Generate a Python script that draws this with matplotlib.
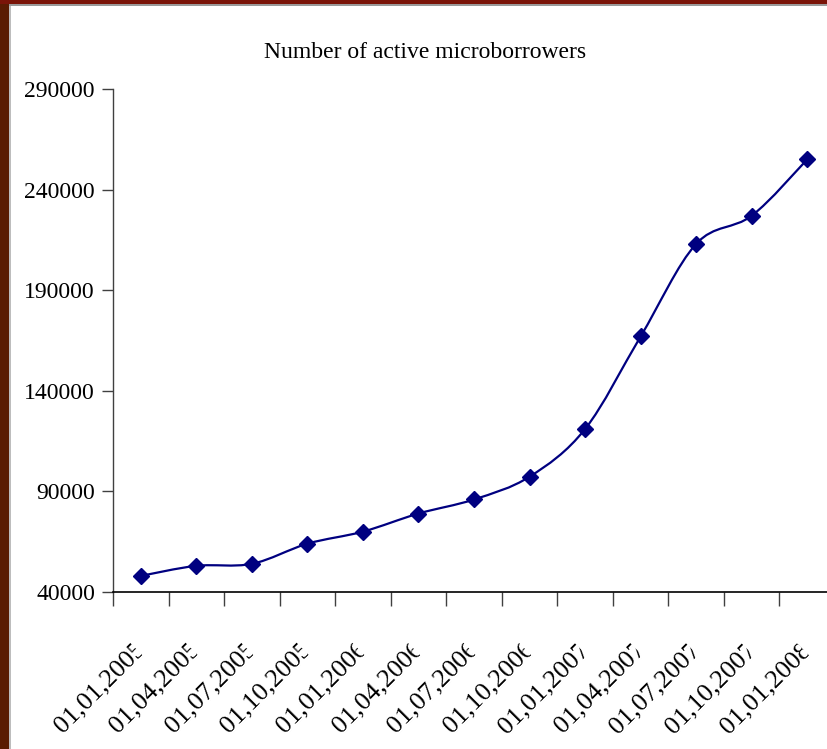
import numpy as np
import matplotlib
matplotlib.use("Agg")
import matplotlib.pyplot as plt
from matplotlib.path import Path
from matplotlib.patches import PathPatch, Rectangle, Polygon
from matplotlib.transforms import IdentityTransform

dates = ["01,01,2005", "01,04,2005", "01,07,2005", "01,10,2005",
         "01,01,2006", "01,04,2006", "01,07,2006", "01,10,2006",
         "01,01,2007", "01,04,2007", "01,07,2007", "01,10,2007",
         "01,01,2008"]
borrowers = [48000, 53000, 54000, 64000, 70000, 79000, 86000, 97300,
             121000, 167000, 213000, 227000, 255000]
y_ticks = [40000, 90000, 140000, 190000, 240000, 290000]
title = "Number of active microborrowers"

W, H, DPI = 827, 749, 100
fig = plt.figure(figsize=(W / DPI, H / DPI), dpi=DPI, facecolor="white")

serif = "Liberation Serif"
navy = "#000080"

# slide frame: dark band on the left and top edges
fig.patches.append(Rectangle((0, 0), 9 / W, 1, transform=fig.transFigure,
                             facecolor="#5a1c02", edgecolor="none", zorder=0))
fig.patches.append(Rectangle((0, 1 - 4 / H), 1, 4 / H, transform=fig.transFigure,
                             facecolor="#7a1408", edgecolor="none", zorder=0))
fig.patches.append(Rectangle((9 / W, 0), 2 / W, 1 - 4 / H, transform=fig.transFigure,
                             facecolor="#bdbdbd", edgecolor="none", zorder=0))
fig.patches.append(Rectangle((9 / W, 1 - 6 / H), 1 - 9 / W, 2 / H, transform=fig.transFigure,
                             facecolor="#9a9a9a", edgecolor="none", zorder=0))

# plot area in pixels: x 113..835, y 89..592 (top-down); the right part runs off the figure
left, right, top, bottom = 113, 835, 89, 592
ax = fig.add_axes([left / W, 1 - bottom / H, (right - left) / W, (bottom - top) / H])
ax.set_facecolor("none")

n = len(dates)
x = np.arange(n, dtype=float)
y = np.asarray(borrowers, dtype=float)

# smoothed line: cubic Bezier segments through every point
verts = [(x[0], y[0])]
codes = [Path.MOVETO]
for i in range(n - 1):
    p0 = np.array([x[max(i - 1, 0)], y[max(i - 1, 0)]])
    p1 = np.array([x[i], y[i]])
    p2 = np.array([x[i + 1], y[i + 1]])
    p3 = np.array([x[min(i + 2, n - 1)], y[min(i + 2, n - 1)]])
    c1 = p1 + (p2 - p0) / 6.0
    c2 = p2 - (p3 - p1) / 6.0
    verts += [tuple(c1), tuple(c2), tuple(p2)]
    codes += [Path.CURVE4, Path.CURVE4, Path.CURVE4]
ax.add_patch(PathPatch(Path(verts, codes), facecolor="none", edgecolor=navy,
                       lw=1.6, transform=ax.transData, zorder=3))
ax.plot(x, y, linestyle="none", marker="D", markersize=8.5, color=navy,
        markeredgecolor=navy, zorder=4, clip_on=False)

ax.set_xlim(-0.5, n - 0.5)
ax.set_ylim(40000, 290000)

for s in ("top", "right"):
    ax.spines[s].set_visible(False)
ax.spines["left"].set_color("#404040")
ax.spines["left"].set_linewidth(1.0)
ax.spines["bottom"].set_color("black")
ax.spines["bottom"].set_linewidth(1.2)

ax.set_yticks(y_ticks)
ax.set_yticklabels([str(v) for v in y_ticks], fontfamily=serif, fontsize=17)
ax.tick_params(axis="y", direction="out", length=8, width=1, color="#404040", pad=5)

ax.set_xticks(np.arange(-0.5, n, 1.0))
ax.set_xticklabels([])
ax.tick_params(axis="x", direction="out", length=10, width=1, color="#404040")

# category labels, rotated 45 degrees; the end of each one is cut short
u = np.array([1.0, 1.0]) / np.sqrt(2)
v = np.array([-1.0, 1.0]) / np.sqrt(2)
cut, reach, half = 6.0, 14.0, 17.0
for i, lab in enumerate(dates):
    px, py = ax.transData.transform((x[i], 40000))
    end = np.array([px + 1, py - 54])
    fig.text(end[0] / W, end[1] / H, lab, fontfamily=serif, fontsize=19,
             rotation=45, rotation_mode="anchor", ha="right", va="center", zorder=3)
    a = end - u * cut
    b = end + u * reach
    mask = Polygon([a - v * half, b - v * half, b + v * half, a + v * half],
                   closed=True, transform=IdentityTransform(),
                   facecolor="white", edgecolor="none", zorder=10)
    fig.patches.append(mask)

fig.text(425 / W, 1 - 52 / H, title, fontfamily=serif, fontsize=17,
         ha="center", va="center")

fig.savefig("out.png", dpi=DPI, facecolor="white")
